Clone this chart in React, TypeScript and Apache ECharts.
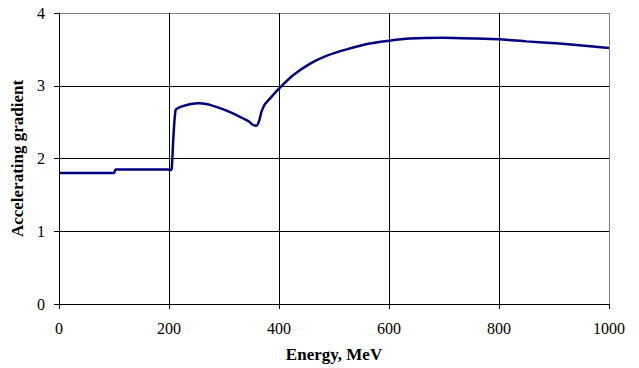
import React, { useEffect, useRef } from "react";
import * as echarts from "echarts";

const energy = [0, 94, 100, 103, 198, 203, 205, 208, 212, 218, 225, 240, 253, 268, 290, 310, 330, 345, 353, 359, 364, 368, 374, 383, 400, 425, 456, 486, 523, 565, 600, 638, 698, 759, 799, 850, 910, 971, 1000];
const gradient = [1.80, 1.80, 1.80, 1.85, 1.85, 1.84, 1.86, 2.30, 2.67, 2.70, 2.72, 2.75, 2.76, 2.75, 2.70, 2.64, 2.57, 2.51, 2.46, 2.45, 2.52, 2.64, 2.74, 2.82, 2.96, 3.14, 3.30, 3.41, 3.50, 3.58, 3.62, 3.65, 3.66, 3.65, 3.64, 3.61, 3.58, 3.54, 3.52];

const xTicks = [0, 200, 400, 600, 800, 1000];
const yTicks = [0, 1, 2, 3, 4];

const FONT = "Liberation Serif";

export default function App() {
  const ref = useRef<HTMLDivElement>(null);
  useEffect(() => {
    if (!ref.current) return;
    const chart = echarts.init(ref.current, null, { renderer: "svg" });
    chart.setOption({
      animation: false,
      backgroundColor: "#fff",
      textStyle: { fontFamily: FONT },
      grid: { left: 59, right: 30, top: 13, bottom: 62, containLabel: false },
      xAxis: {
        type: "value",
        min: xTicks[0],
        max: xTicks[xTicks.length - 1],
        interval: 200,
        name: "Energy, MeV",
        nameLocation: "middle",
        nameGap: 42,
        nameTextStyle: { fontFamily: FONT, fontSize: 17, fontWeight: "bold", color: "#000" },
        axisLine: { show: true, lineStyle: { color: "#000", width: 1 } },
        axisTick: { show: true, inside: false, length: 5, lineStyle: { color: "#000" } },
        axisLabel: { fontFamily: FONT, fontSize: 16, color: "#000", margin: 16, formatter: (v: number) => String(v) },
        splitLine: {
          show: true,
          lineStyle: { color: ["#000", "#000", "#000", "#000", "#000", "#808080"], width: 1 },
        },
      },
      yAxis: {
        type: "value",
        min: yTicks[0],
        max: yTicks[yTicks.length - 1],
        interval: 1,
        name: "Accelerating gradient",
        nameLocation: "middle",
        nameGap: 31,
        nameTextStyle: { fontFamily: FONT, fontSize: 17, fontWeight: "bold", color: "#000" },
        axisLine: { show: true, lineStyle: { color: "#000", width: 1 } },
        axisTick: { show: true, inside: false, length: 5, lineStyle: { color: "#000" } },
        axisLabel: { fontFamily: FONT, fontSize: 16, color: "#000", margin: 14, formatter: (v: number) => String(v) },
        splitLine: {
          show: true,
          lineStyle: { color: ["#000", "#000", "#000", "#000", "#808080"], width: 1 },
        },
      },
      series: [
        {
          type: "line",
          data: energy.map((e, i) => [e, gradient[i]]),
          showSymbol: false,
          smooth: 0.2,
          lineStyle: { color: "#000080", width: 2.5 },
        },
      ],
    });
    return () => chart.dispose();
  }, []);
  return (
    <div
      ref={ref}
      style={{ position: "fixed", left: 0, top: 0, width: 639, height: 368, background: "#fff" }}
    />
  );
}
